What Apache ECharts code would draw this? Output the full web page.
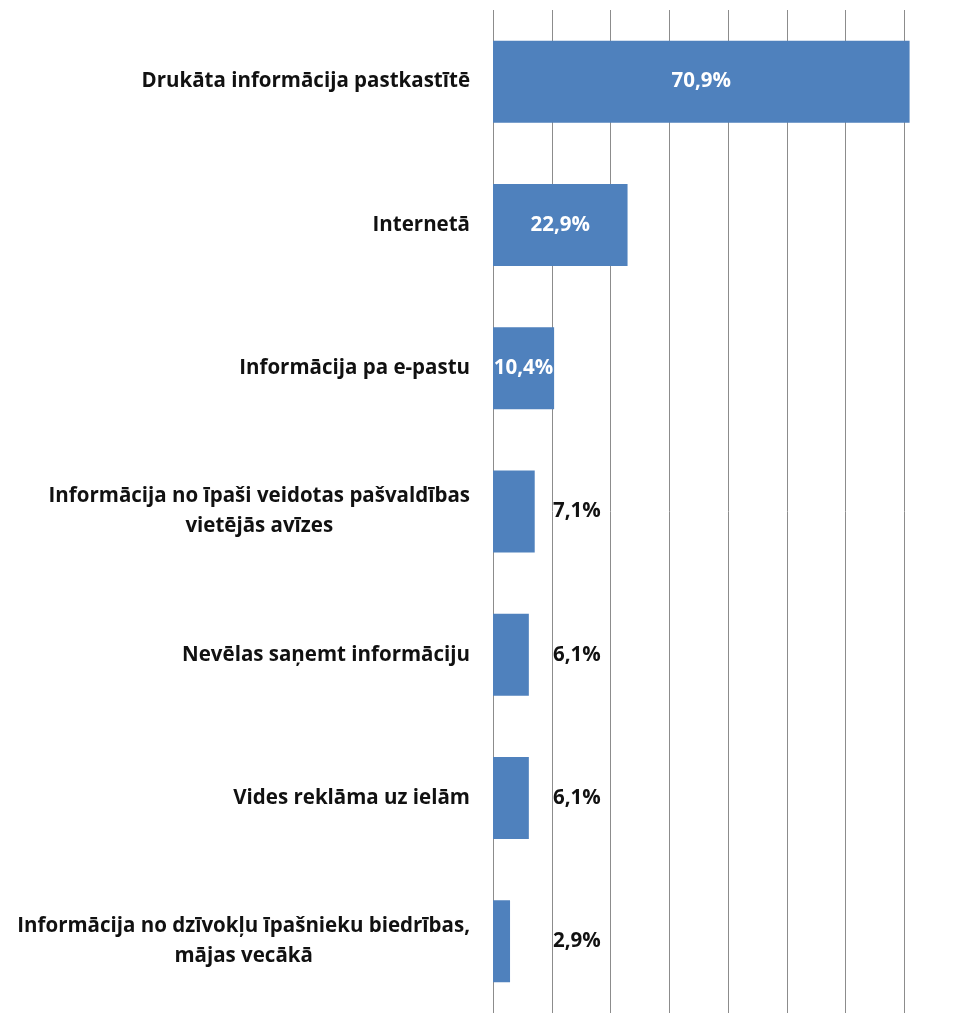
<!DOCTYPE html>
<html>
<head>
<meta charset="utf-8">
<script src="https://cdn.jsdelivr.net/npm/echarts@6/dist/echarts.min.js"></script>
<style>
html,body{margin:0;padding:0;background:#fff;}
#chart{width:953px;height:1013px;}
</style>
</head>
<body>
<div id="chart"></div>
<script>
const categories = [
  "Drukāta informācija pastkastītē",
  "Internetā",
  "Informācija pa e-pastu",
  "Informācija no īpaši veidotas pašvaldības\nvietējās avīzes",
  "Nevēlas saņemt informāciju",
  "Vides reklāma uz ielām",
  "Informācija no dzīvokļu īpašnieku biedrības,\nmājas vecākā"
];
const values = [70.9, 22.9, 10.4, 7.1, 6.1, 6.1, 2.9];
const insideThreshold = 10; // values above this get a white label inside the bar

const FONT = '"Open Sans"';
const chart = echarts.init(document.getElementById('chart'));

const data = values.map(v => {
  const inside = v > insideThreshold;
  return {
    value: v,
    label: inside
      ? { position: 'inside', color: '#ffffff' }
      : { position: 'insideLeft', distance: 60, color: '#111111' }
  };
});

chart.setOption({
  animation: false,
  grid: { left: 493, right: 48.7, top: 10, bottom: -5, containLabel: false },
  xAxis: {
    type: 'value',
    min: 0,
    max: 70,
    interval: 10,
    axisLabel: { show: false },
    axisTick: { show: false },
    axisLine: { show: false },
    splitLine: { show: true, lineStyle: { color: '#8c8c8c', width: 1 } }
  },
  yAxis: {
    type: 'category',
    inverse: true,
    data: categories,
    axisLine: { show: false },
    axisTick: { show: false },
    axisLabel: {
      margin: 23,
      formatter: v => v.split('\n').map(s => '{a|' + s + '}').join('\n'),
      rich: {
        a: {
          align: 'center',
          fontFamily: FONT,
          fontWeight: 'bold',
          fontSize: 20.5,
          lineHeight: 30,
          color: '#111111'
        }
      }
    }
  },
  series: [{
    type: 'bar',
    data: data,
    barWidth: 82,
    clip: false,
    itemStyle: { color: '#4f81bd' },
    label: {
      show: true,
      fontFamily: FONT,
      fontWeight: 'bold',
      fontSize: 20.5,
      formatter: p => p.value.toFixed(1).replace('.', ',') + '%'
    }
  }]
});
</script>
</body>
</html>
